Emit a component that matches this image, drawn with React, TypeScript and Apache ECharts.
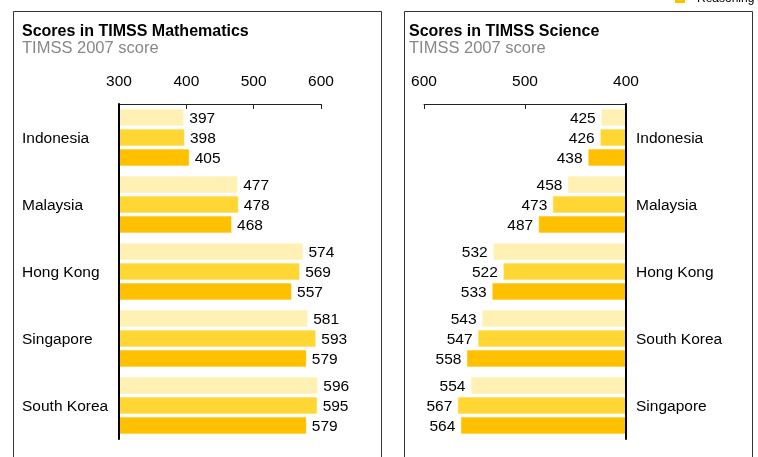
import React, { useEffect, useRef } from "react";
import * as echarts from "echarts";

const seriesNames = ["Knowing", "Applying", "Reasoning"];
const colors = ["#FFF0B3", "#FFD633", "#FFC000"];

const mathCountries = ["Indonesia", "Malaysia", "Hong Kong", "Singapore", "South Korea"];
const mathKnowing = [397, 477, 574, 581, 596];
const mathApplying = [398, 478, 569, 593, 595];
const mathReasoning = [405, 468, 557, 579, 579];

const sciCountries = ["Indonesia", "Malaysia", "Hong Kong", "South Korea", "Singapore"];
const sciKnowing = [425, 458, 532, 543, 554];
const sciApplying = [426, 473, 522, 547, 567];
const sciReasoning = [438, 487, 533, 558, 564];

const FONT = "'Liberation Sans', Arial, Helvetica, sans-serif";
const FS = 15.5;

export default function App() {
  const ref = useRef<HTMLDivElement>(null);
  useEffect(() => {
    document.body.style.margin = "0";
    const chart = echarts.init(ref.current!, undefined, { renderer: "svg" });
    const mathData = [mathKnowing, mathApplying, mathReasoning];
    const sciData = [sciKnowing, sciApplying, sciReasoning];

    const barCommon = (i: number) => ({
      type: "bar" as const,
      name: seriesNames[i],
      barWidth: 18,
      barGap: "11%",
      itemStyle: { color: colors[i], borderColor: "rgba(255,255,255,0.6)", borderWidth: 1 },
    });

    const series: any[] = [];
    mathData.forEach((d, i) => {
      series.push({
        ...barCommon(i),
        xAxisIndex: 0,
        yAxisIndex: 0,
        data: d,
        label: { show: true, position: "right", distance: 5, color: "#000", fontSize: FS, fontFamily: FONT },
      });
    });
    sciData.forEach((d, i) => {
      series.push({
        ...barCommon(i),
        xAxisIndex: 1,
        yAxisIndex: 1,
        data: d,
        label: { show: true, position: "left", distance: 5, color: "#000", fontSize: FS, fontFamily: FONT },
      });
    });

    const xCommon = {
      type: "value" as const,
      position: "top" as const,
      interval: 100,
      axisLine: { show: true, lineStyle: { color: "#222", width: 1 } },
      axisTick: { show: true, inside: true, length: 5, lineStyle: { color: "#222" } },
      splitLine: { show: false },
      axisLabel: { color: "#000", fontSize: FS, margin: 16, fontFamily: FONT },
    };

    const yCommon = {
      type: "category" as const,
      inverse: true,
      z: 5,
      axisLine: { show: true, lineStyle: { color: "#000", width: 2 } },
      axisTick: { show: false },
      splitLine: { show: false },
    };

    chart.setOption({
      animation: false,
      textStyle: { fontFamily: FONT },
      grid: [
        { left: 119, top: 104, width: 202, height: 335 },
        { left: 424, top: 104, width: 202, height: 335 },
      ],
      xAxis: [
        { ...xCommon, gridIndex: 0, min: 300, max: 600 },
        { ...xCommon, gridIndex: 1, min: 400, max: 600, inverse: true },
      ],
      yAxis: [
        {
          ...yCommon,
          gridIndex: 0,
          data: mathCountries,
          axisLabel: { align: "left", margin: 97, color: "#000", fontSize: FS, fontFamily: FONT },
        },
        {
          ...yCommon,
          gridIndex: 1,
          position: "right",
          data: sciCountries,
          axisLabel: { align: "left", margin: 10, color: "#000", fontSize: FS, fontFamily: FONT },
        },
      ],
      graphic: [
        { type: "rect", shape: { x: 13.5, y: 11.5, width: 368, height: 470 }, style: { fill: "none", stroke: "#333", lineWidth: 1 }, z: -1 },
        { type: "rect", shape: { x: 404.5, y: 11.5, width: 348, height: 470 }, style: { fill: "none", stroke: "#333", lineWidth: 1 }, z: -1 },
        { type: "text", x: 22, y: 30.5, style: { text: "Scores in TIMSS Mathematics", font: `bold 16px ${FONT}`, fill: "#000", verticalAlign: "middle" } },
        { type: "text", x: 22, y: 46.5, style: { text: "TIMSS 2007 score", font: `16.5px ${FONT}`, fill: "#888", verticalAlign: "middle" } },
        { type: "text", x: 409, y: 30.5, style: { text: "Scores in TIMSS Science", font: `bold 16px ${FONT}`, fill: "#000", verticalAlign: "middle" } },
        { type: "text", x: 409, y: 46.5, style: { text: "TIMSS 2007 score", font: `16.5px ${FONT}`, fill: "#888", verticalAlign: "middle" } },
        { type: "rect", shape: { x: 675, y: -7, width: 10, height: 10 }, style: { fill: colors[2] } },
        { type: "text", x: 697, y: -2.5, style: { text: seriesNames[2], font: `12px ${FONT}`, fill: "#000", verticalAlign: "middle" } },
      ],
      series,
    });
    return () => chart.dispose();
  }, []);
  return <div ref={ref} style={{ position: "fixed", left: 0, top: 0, width: 758, height: 457 }} />;
}
